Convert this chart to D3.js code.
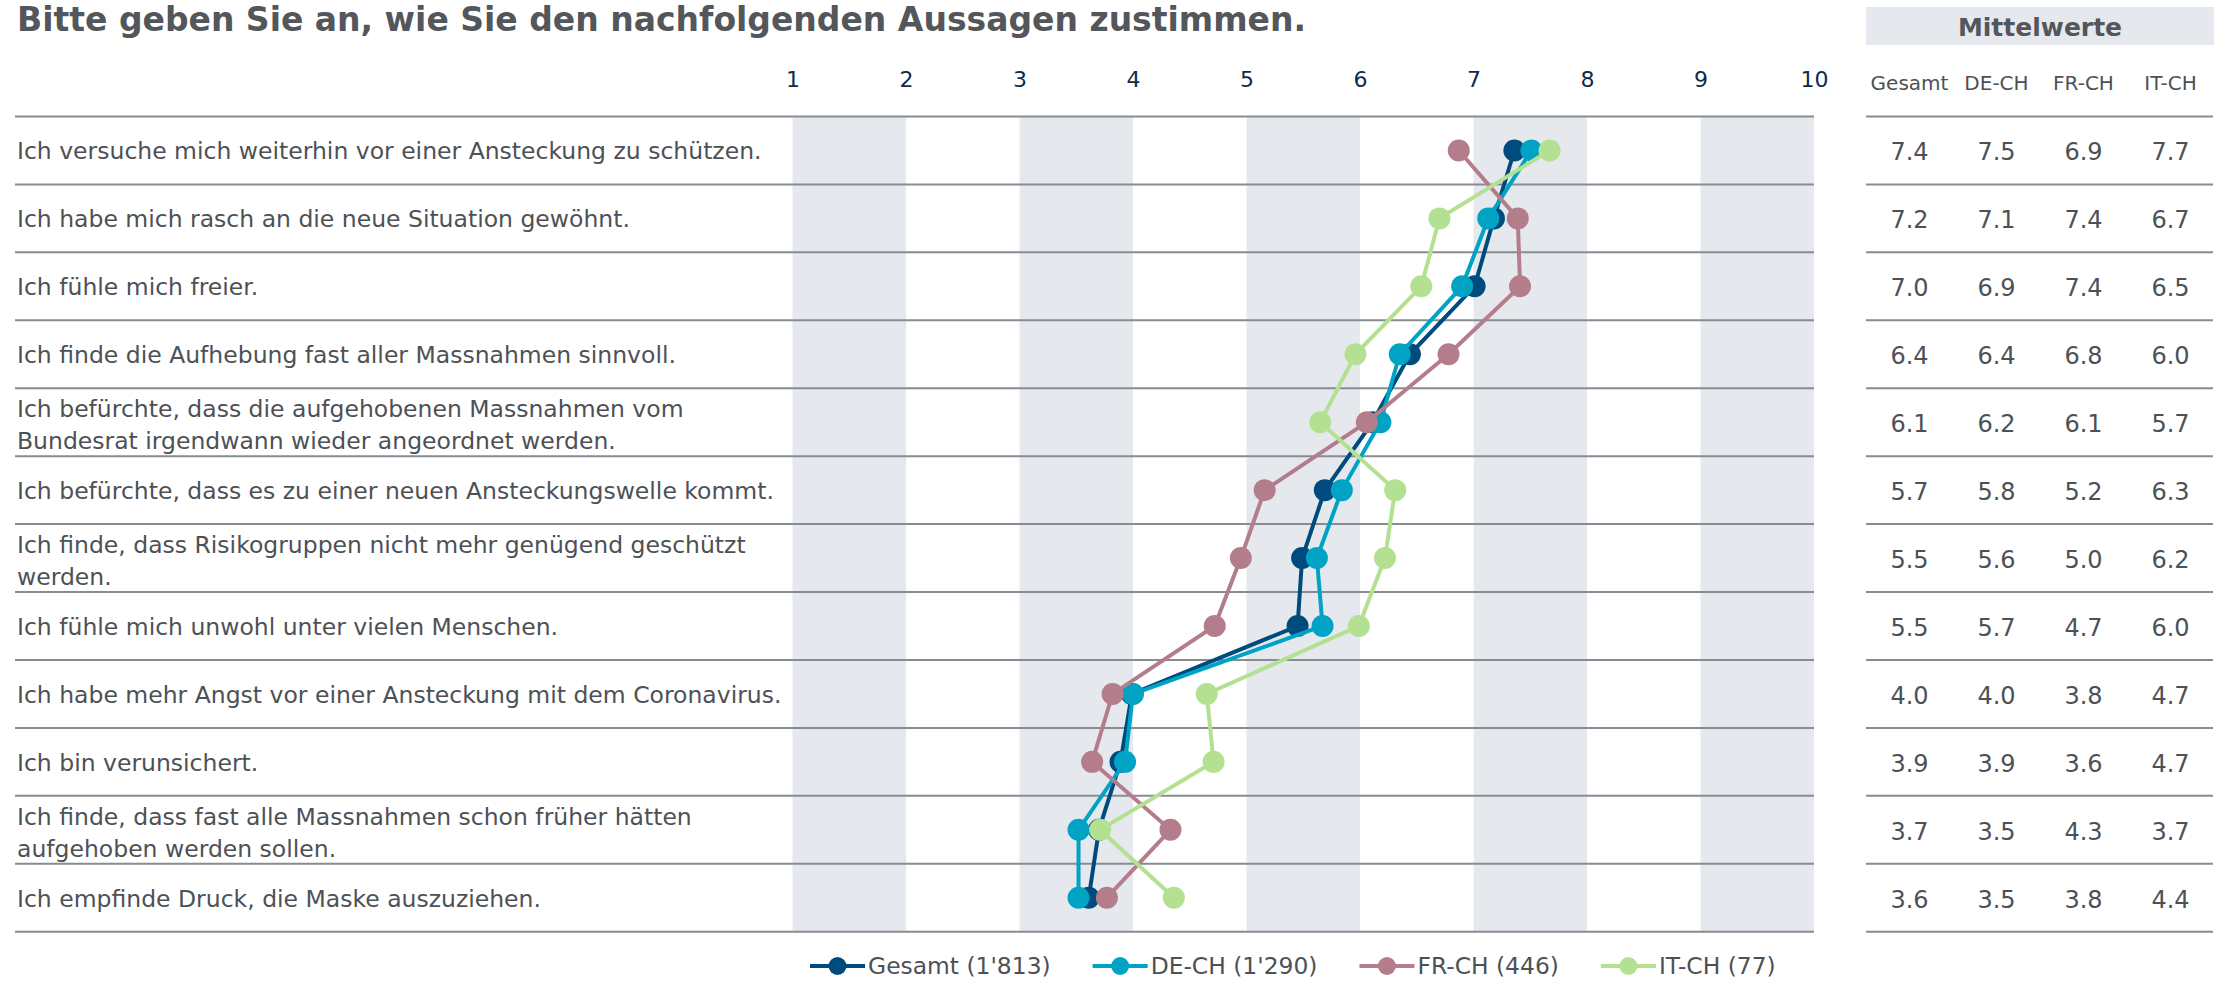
<!DOCTYPE html>
<html>
<head>
<meta charset="utf-8">
<script src="https://cdn.jsdelivr.net/npm/d3@7"></script>
<style>
  body { margin: 0; background: #fff; }
  svg { display: block; font-family: "DejaVu Sans", sans-serif; }
</style>
</head>
<body>
<svg width="2227" height="982"></svg>
<script>
const statements = [
  "Ich versuche mich weiterhin vor einer Ansteckung zu schützen.",
  "Ich habe mich rasch an die neue Situation gewöhnt.",
  "Ich fühle mich freier.",
  "Ich finde die Aufhebung fast aller Massnahmen sinnvoll.",
  "Ich befürchte, dass die aufgehobenen Massnahmen vom\nBundesrat irgendwann wieder angeordnet werden.",
  "Ich befürchte, dass es zu einer neuen Ansteckungswelle kommt.",
  "Ich finde, dass Risikogruppen nicht mehr genügend geschützt\nwerden.",
  "Ich fühle mich unwohl unter vielen Menschen.",
  "Ich habe mehr Angst vor einer Ansteckung mit dem Coronavirus.",
  "Ich bin verunsichert.",
  "Ich finde, dass fast alle Massnahmen schon früher hätten\naufgehoben werden sollen.",
  "Ich empfinde Druck, die Maske auszuziehen."
];

// plotted positions
const gesamt = [7.36, 7.18, 7.01, 6.44, 6.11, 5.69, 5.49, 5.45, 3.99, 3.89, 3.70, 3.61];
const deCh   = [7.51, 7.13, 6.90, 6.35, 6.18, 5.84, 5.62, 5.67, 4.00, 3.93, 3.52, 3.52];
const frCh   = [6.87, 7.39, 7.41, 6.78, 6.06, 5.16, 4.95, 4.72, 3.82, 3.64, 4.33, 3.77];
const itCh   = [7.67, 6.70, 6.54, 5.96, 5.65, 6.31, 6.22, 5.99, 4.65, 4.71, 3.71, 4.36];

// table of means (as printed)
const meanGesamt = [7.4, 7.2, 7.0, 6.4, 6.1, 5.7, 5.5, 5.5, 4.0, 3.9, 3.7, 3.6];
const meanDe     = [7.5, 7.1, 6.9, 6.4, 6.2, 5.8, 5.6, 5.7, 4.0, 3.9, 3.5, 3.5];
const meanFr     = [6.9, 7.4, 7.4, 6.8, 6.1, 5.2, 5.0, 4.7, 3.8, 3.6, 4.3, 3.8];
const meanIt     = [7.7, 6.7, 6.5, 6.0, 5.7, 6.3, 6.2, 6.0, 4.7, 4.7, 3.7, 4.4];

const seriesNames = ["Gesamt (1'813)", "DE-CH (1'290)", "FR-CH (446)", "IT-CH (77)"];
const tableHeaders = ["Gesamt", "DE-CH", "FR-CH", "IT-CH"];
const ticks = [1, 2, 3, 4, 5, 6, 7, 8, 9, 10];
const title = "Bitte geben Sie an, wie Sie den nachfolgenden Aussagen zustimmen.";

const colors = ["#004b7d", "#00a3c4", "#b47d8b", "#b3e191"];
const textColor = "#4d5156";
const bandColor = "#e5e9ed";
const ruleColor = "#888c91";

const svg = d3.select("svg");

const xScale = d3.scaleLinear().domain([1, 10]).range([792.5, 1814]);
const yScale = d3.scaleBand().domain(d3.range(statements.length)).range([116.5, 931.7]);
const rowMid = i => yScale(i) + yScale.bandwidth() / 2;

// title
svg.append("text")
  .attr("x", 17).attr("y", 31)
  .attr("font-size", 33).attr("font-weight", "bold")
  .attr("fill", "#53565a")
  .text(title);

// grey bands
svg.append("g").selectAll("rect")
  .data([1, 3, 5, 7, 9])
  .join("rect")
  .attr("x", d => xScale(d))
  .attr("width", d => xScale(d + 1) - xScale(d))
  .attr("y", yScale.range()[0])
  .attr("height", yScale.range()[1] - yScale.range()[0])
  .attr("fill", bandColor);

// x axis on top
const xAxis = d3.axisTop(xScale).tickValues(ticks).tickSize(0).tickFormat(d3.format("d"));
svg.append("g")
  .attr("transform", "translate(0,90)")
  .call(xAxis)
  .call(g => g.select(".domain").remove())
  .call(g => g.selectAll("text")
    .attr("font-size", 22)
    .attr("font-family", "DejaVu Sans")
    .attr("fill", "#0e2b4c")
    .attr("dy", 0));

// row rules
const bounds = d3.range(statements.length + 1).map(i => i < statements.length ? yScale(i) : yScale.range()[1]);
svg.append("g").selectAll("line")
  .data(bounds)
  .join("line")
  .attr("x1", 15).attr("x2", xScale(10))
  .attr("y1", d => d).attr("y2", d => d)
  .attr("stroke", ruleColor).attr("stroke-width", 2);

// statement labels
const labels = svg.append("g").selectAll("text")
  .data(statements)
  .join("text")
  .attr("x", 17)
  .attr("font-size", 23.5)
  .attr("fill", textColor);
labels.each(function(d, i) {
  const lines = d.split("\n");
  const base = lines.length === 1 ? rowMid(i) + 9 : rowMid(i) - 5;
  d3.select(this).selectAll("tspan")
    .data(lines)
    .join("tspan")
    .attr("x", 17)
    .attr("y", (l, k) => base + k * 32)
    .text(l => l);
});

// series
const series = [gesamt, deCh, frCh, itCh];
const line = d3.line()
  .x(d => xScale(d))
  .y((d, i) => rowMid(i));
series.forEach((vals, s) => {
  const g = svg.append("g");
  g.append("path")
    .datum(vals)
    .attr("d", line)
    .attr("fill", "none")
    .attr("stroke", colors[s])
    .attr("stroke-width", 4);
  g.selectAll("circle")
    .data(vals)
    .join("circle")
    .attr("cx", d => xScale(d))
    .attr("cy", (d, i) => rowMid(i))
    .attr("r", 11)
    .attr("fill", colors[s]);
});

// table
const colScale = d3.scaleBand().domain(tableHeaders).range([1866, 2214]);
const colMid = h => colScale(h) + colScale.bandwidth() / 2;

svg.append("rect")
  .attr("x", 1866).attr("y", 7)
  .attr("width", 348).attr("height", 38)
  .attr("fill", bandColor);
svg.append("text")
  .attr("x", 2040).attr("y", 36)
  .attr("text-anchor", "middle")
  .attr("font-size", 25).attr("font-weight", "bold")
  .attr("fill", "#53565a")
  .text("Mittelwerte");

svg.append("g").selectAll("text")
  .data(tableHeaders)
  .join("text")
  .attr("x", d => colMid(d))
  .attr("y", 90)
  .attr("text-anchor", "middle")
  .attr("font-size", 20)
  .attr("fill", textColor)
  .text(d => d);

svg.append("g").selectAll("line")
  .data(bounds)
  .join("line")
  .attr("x1", 1866).attr("x2", 2213)
  .attr("y1", d => d).attr("y2", d => d)
  .attr("stroke", ruleColor).attr("stroke-width", 2);

const means = [meanGesamt, meanDe, meanFr, meanIt];
means.forEach((vals, c) => {
  svg.append("g").selectAll("text")
    .data(vals)
    .join("text")
    .attr("x", colMid(tableHeaders[c]))
    .attr("y", (d, i) => rowMid(i) + 10)
    .attr("text-anchor", "middle")
    .attr("font-size", 24)
    .attr("fill", textColor)
    .text(d => d.toFixed(1));
});

// legend
const legend = svg.append("g").attr("transform", "translate(810,966)");
let lx = 0;
seriesNames.forEach((name, s) => {
  const item = legend.append("g").attr("transform", `translate(${lx},0)`);
  item.append("line")
    .attr("x1", 0).attr("x2", 55)
    .attr("stroke", colors[s]).attr("stroke-width", 4);
  item.append("circle")
    .attr("cx", 27.5).attr("r", 9)
    .attr("fill", colors[s]);
  const t = item.append("text")
    .attr("x", 58).attr("y", 8)
    .attr("font-size", 23.4)
    .attr("fill", textColor)
    .text(name);
  lx += 58 + t.node().getComputedTextLength() + 42;
});
</script>
</body>
</html>
